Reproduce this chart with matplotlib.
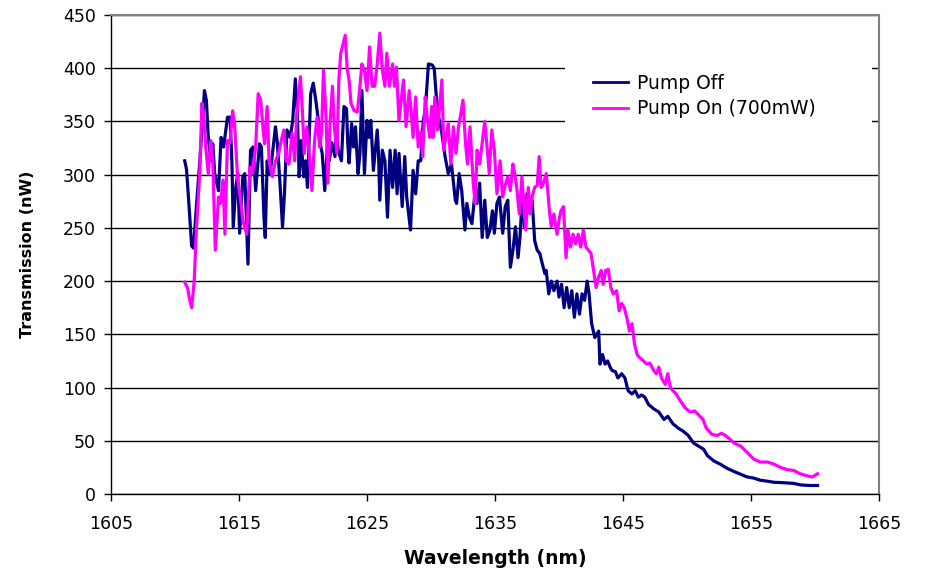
import matplotlib
matplotlib.use("Agg")
import matplotlib.pyplot as plt
from matplotlib.patches import Rectangle

# ---- data ----
off_wl = [1610.76, 1610.9, 1611.1, 1611.3, 1611.45, 1611.67, 1611.93, 1612.3, 1612.45, 1612.6,
          1612.8, 1612.95, 1613.1, 1613.4, 1613.6, 1613.8, 1614.1, 1614.3, 1614.45, 1614.55,
          1614.75, 1614.9, 1615.05, 1615.3, 1615.45, 1615.7, 1615.9, 1616.1, 1616.3, 1616.6,
          1616.75, 1616.95, 1617.05, 1617.2, 1617.4, 1617.55, 1617.85, 1618.0, 1618.2, 1618.4,
          1618.55, 1618.75, 1619.0, 1619.2, 1619.4, 1619.55, 1619.7, 1619.85, 1620.06, 1620.2,
          1620.35, 1620.6, 1620.8, 1621.0, 1621.2, 1621.35, 1621.5, 1621.7, 1621.9, 1622.05,
          1622.25, 1622.5, 1622.6, 1622.75, 1623.0, 1623.2, 1623.4, 1623.5, 1623.6, 1623.8,
          1623.95, 1624.1, 1624.3, 1624.45, 1624.6, 1624.8, 1625.0, 1625.15, 1625.3, 1625.5,
          1625.8, 1625.9, 1626.0, 1626.2, 1626.4, 1626.6, 1626.8, 1627.0, 1627.2, 1627.35,
          1627.5, 1627.75, 1627.95, 1628.1, 1628.4, 1628.6, 1628.8, 1629.0, 1629.2, 1629.4,
          1629.55, 1629.8, 1630.1, 1630.25, 1630.4, 1630.6, 1630.85, 1631.1, 1631.35, 1631.6,
          1631.9, 1632.0, 1632.2, 1632.4, 1632.65, 1632.8, 1633.0, 1633.2, 1633.4, 1633.6,
          1633.8, 1634.0, 1634.2, 1634.4, 1634.6, 1634.8, 1634.95, 1635.15, 1635.35, 1635.6,
          1635.8, 1636.0, 1636.2, 1636.4, 1636.6, 1636.8, 1636.95, 1637.15, 1637.3, 1637.5,
          1637.75, 1637.9, 1638.1, 1638.3, 1638.5, 1638.7, 1638.9, 1639.0, 1639.2, 1639.4,
          1639.6, 1639.85, 1640.0, 1640.2, 1640.4, 1640.6, 1640.8, 1641.0, 1641.2, 1641.4,
          1641.6, 1641.8, 1642.0, 1642.2, 1642.35, 1642.55, 1642.8, 1642.95, 1643.1, 1643.2,
          1643.4, 1643.6, 1643.8, 1644.0, 1644.15, 1644.4, 1644.6, 1644.9, 1645.15, 1645.4,
          1645.7, 1645.95, 1646.2, 1646.45, 1646.7, 1647.0, 1647.4, 1647.8, 1648.2, 1648.5,
          1648.9, 1649.3, 1649.7, 1650.1, 1650.5, 1650.9, 1651.3, 1651.6, 1652.1, 1652.6,
          1653.15, 1653.7, 1654.2, 1654.7, 1655.2, 1655.7, 1656.3, 1656.8, 1657.55, 1658.3,
          1658.9, 1659.6, 1660.2]
off_val = [313, 305, 270, 233, 231, 270, 311, 379, 370, 335,
           313, 329, 301, 285, 335, 326, 354, 354, 311, 251,
           288, 301, 245, 298, 301, 216, 323, 326, 285, 329,
           326, 260, 241, 313, 300, 313, 345, 329, 292, 251,
           282, 342, 335, 351, 390, 360, 298, 332, 298, 313,
           288, 376, 386, 370, 351, 329, 320, 285, 326, 313,
           330, 317, 342, 323, 313, 364, 362, 329, 311, 348,
           326, 345, 301, 320, 379, 301, 351, 335, 351, 304,
           342, 320, 276, 323, 313, 260, 323, 288, 323, 282,
           320, 270, 317, 279, 248, 304, 282, 313, 313, 351,
           360, 404, 403, 400, 376, 354, 339, 317, 301, 310,
           276, 273, 301, 285, 248, 273, 260, 254, 279, 273,
           292, 241, 276, 241, 248, 266, 245, 273, 279, 245,
           270, 276, 213, 229, 251, 222, 241, 282, 251, 282,
           266, 276, 238, 229, 226, 216, 207, 210, 188, 200,
           191, 200, 185, 197, 175, 194, 175, 191, 166, 188,
           169, 188, 182, 200, 188, 160, 147, 150, 153, 122,
           131, 122, 125, 119, 116, 115, 109, 113, 109, 97,
           94, 97, 91, 93, 91, 84, 80, 77, 70, 73,
           66, 62, 59, 55, 48, 45, 42, 36, 31, 28,
           24, 21, 18.5, 16, 15, 13, 12, 11, 10.6, 10,
           8.5, 8, 8]

on_wl = [1610.76, 1611.0, 1611.15, 1611.3, 1611.5, 1611.67, 1611.93, 1612.1, 1612.25, 1612.4,
         1612.6, 1612.8, 1612.95, 1613.15, 1613.4, 1613.55, 1613.75, 1613.9, 1614.1, 1614.3,
         1614.5, 1614.65, 1614.9, 1615.1, 1615.3, 1615.6, 1615.85, 1616.05, 1616.3, 1616.5,
         1616.7, 1616.9, 1617.0, 1617.2, 1617.35, 1617.6, 1617.85, 1618.1, 1618.3, 1618.5,
         1618.7, 1618.9, 1619.15, 1619.35, 1619.5, 1619.8, 1619.95, 1620.1, 1620.3, 1620.5,
         1620.7, 1620.9, 1621.1, 1621.3, 1621.45, 1621.6, 1621.8, 1621.95, 1622.1, 1622.3,
         1622.45, 1622.65, 1622.8, 1622.95, 1623.3, 1623.45, 1623.6, 1623.75, 1624.0, 1624.25,
         1624.45, 1624.6, 1624.8, 1625.0, 1625.2, 1625.4, 1625.6, 1625.8, 1626.0, 1626.2,
         1626.4, 1626.55, 1626.75, 1627.0, 1627.15, 1627.3, 1627.5, 1627.7, 1627.85, 1628.05,
         1628.3, 1628.45, 1628.6, 1628.8, 1629.0, 1629.2, 1629.35, 1629.55, 1629.7, 1629.9,
         1630.05, 1630.15, 1630.3, 1630.5, 1630.65, 1630.85, 1631.0, 1631.15, 1631.35, 1631.55,
         1631.75, 1631.95, 1632.15, 1632.3, 1632.5, 1632.7, 1632.85, 1633.05, 1633.3, 1633.45,
         1633.6, 1633.8, 1634.05, 1634.2, 1634.4, 1634.55, 1634.75, 1634.95, 1635.15, 1635.4,
         1635.6, 1635.8, 1636.0, 1636.2, 1636.4, 1636.55, 1636.7, 1636.9, 1637.1, 1637.25,
         1637.4, 1637.6, 1637.75, 1637.9, 1638.1, 1638.3, 1638.45, 1638.6, 1638.8, 1639.0,
         1639.1, 1639.25, 1639.4, 1639.6, 1639.85, 1640.0, 1640.15, 1640.35, 1640.55, 1640.7,
         1640.9, 1641.1, 1641.3, 1641.5, 1641.7, 1641.9, 1642.1, 1642.3, 1642.5, 1642.7,
         1642.9, 1643.1, 1643.3, 1643.45, 1643.65, 1643.85, 1644.05, 1644.25, 1644.5, 1644.7,
         1644.9, 1645.1, 1645.35, 1645.5, 1645.7, 1645.9, 1646.1, 1646.3, 1646.6, 1646.85,
         1647.1, 1647.4, 1647.6, 1647.8, 1648.0, 1648.3, 1648.5, 1648.7, 1648.9, 1649.15,
         1649.45, 1649.85, 1650.25, 1650.6, 1651.0, 1651.25, 1651.5, 1651.95, 1652.35, 1652.7,
         1653.0, 1653.4, 1653.65, 1654.2, 1654.7, 1655.2, 1655.7, 1656.3, 1656.8, 1657.3,
         1657.8, 1658.35, 1658.85, 1659.4, 1659.8, 1660.2]
on_val = [199, 193, 182, 175, 200, 248, 301, 367, 354, 326,
          301, 332, 313, 229, 279, 273, 295, 244, 332, 330,
          360, 348, 295, 279, 257, 244, 307, 301, 326, 376,
          370, 340, 329, 364, 313, 298, 313, 320, 332, 342,
          313, 310, 339, 313, 354, 392, 360, 320, 345, 317,
          285, 332, 354, 326, 340, 398, 354, 292, 345, 383,
          345, 320, 389, 414, 431, 400, 389, 367, 360, 359,
          383, 404, 398, 379, 420, 383, 383, 404, 433, 398,
          383, 414, 383, 404, 383, 401, 351, 373, 389, 345,
          379, 360, 335, 373, 326, 340, 317, 373, 354, 335,
          364, 335, 373, 342, 360, 389, 323, 335, 348, 310,
          345, 320, 345, 355, 370, 329, 310, 345, 292, 273,
          323, 310, 335, 350, 323, 301, 342, 323, 282, 313,
          279, 290, 298, 285, 310, 300, 288, 263, 298, 273,
          248, 288, 263, 279, 288, 290, 317, 288, 292, 301,
          288, 266, 251, 263, 244, 257, 266, 270, 222, 248,
          232, 244, 235, 244, 232, 248, 232, 229, 226, 210,
          194, 204, 210, 197, 210, 211, 194, 188, 191, 172,
          179, 175, 163, 153, 160, 141, 131, 128, 125, 122,
          123, 116, 113, 119, 109, 103, 113, 100, 97, 94,
          88, 81, 77, 78, 73, 70, 62, 56, 55, 57,
          55, 51, 48, 45, 39, 33, 30, 30, 28, 25,
          23, 22, 19, 17, 16, 19]

series_labels = ["Pump Off", "Pump On (700mW)"]
x_ticks = [1605, 1615, 1625, 1635, 1645, 1655, 1665]
y_ticks = [0, 50, 100, 150, 200, 250, 300, 350, 400, 450]
x_label = "Wavelength (nm)"
y_label = "Transmission (nW)"

# ---- figure ----
plt.rcParams['font.family'] = ['DejaVu Sans']
fig = plt.figure(figsize=(9.31, 5.69), dpi=100)
ax = fig.add_axes([111 / 931, 1 - 494 / 569, 768 / 931, 479 / 569])

ax.set_xlim(1605, 1665)
ax.set_ylim(0, 450)
ax.set_xticks(x_ticks)
ax.set_yticks(y_ticks)
ax.tick_params(axis='both', direction='out', length=5, width=1, labelsize=12.5, color='black')
ax.tick_params(axis='x', pad=10)
ax.tick_params(axis='y', pad=6)
ax.set_axisbelow(True)
ax.yaxis.grid(True, color='black', linewidth=1.0)
ax.xaxis.grid(False)

for s in ['left', 'bottom']:
    ax.spines[s].set_color('black')
    ax.spines[s].set_linewidth(1.0)
for s in ['top', 'right']:
    ax.spines[s].set_color('#808080')
    ax.spines[s].set_linewidth(1.5)

# white legend box covering gridline
ax.add_patch(Rectangle((0.591, 0.77), 0.4, 0.125, transform=ax.transAxes,
                       facecolor='white', edgecolor='none', zorder=1.5, clip_on=False))

ax.plot(off_wl, off_val, color='#000080', linewidth=2.3, label=series_labels[0],
        solid_joinstyle='round', zorder=3)
ax.plot(on_wl, on_val, color='#FF00FF', linewidth=2.3, label=series_labels[1],
        solid_joinstyle='round', zorder=4)

leg = ax.legend(loc='upper left', bbox_to_anchor=(0.61, 0.905), frameon=False,
                fontsize=13.5, handlelength=1.9, handletextpad=0.45, labelspacing=0.35,
                borderpad=0.2)
for ln in leg.get_lines():
    ln.set_linewidth(2.0)

ax.set_xlabel(x_label, fontsize=13.5, fontweight='bold', labelpad=12)
ax.set_ylabel(y_label, fontsize=11.5, fontweight='bold', labelpad=20)

fig.savefig("out.png", dpi=100)
